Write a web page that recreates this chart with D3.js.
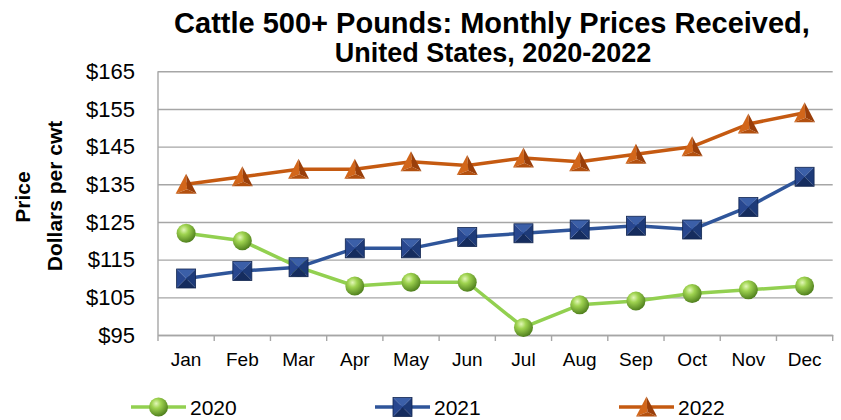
<!DOCTYPE html>
<html>
<head>
<meta charset="utf-8">
<script src="https://cdn.jsdelivr.net/npm/d3@7"></script>
<style>
  body { margin: 0; background: #fff; }
  svg { display: block; font-family: "Liberation Sans", Arial, sans-serif; }
</style>
</head>
<body>
<div id="chart"></div>
<script>
const months = ["Jan","Feb","Mar","Apr","May","Jun","Jul","Aug","Sep","Oct","Nov","Dec"];
const prices2020 = [122, 120, 113, 108, 109, 109, 97, 103, 104, 106, 107, 108];
const prices2021 = [110, 112, 113, 118, 118, 121, 122, 123, 124, 123, 129, 137];
const prices2022 = [135, 137, 139, 139, 141, 140, 142, 141, 143, 145, 151, 154];
const yTicks = [95, 105, 115, 125, 135, 145, 155, 165];
const seriesNames = ["2020", "2021", "2022"];

const width = 841, height = 420;
const plot = { left: 158, right: 832.7, top: 71.3, bottom: 335 };

const svg = d3.select("#chart").append("svg")
  .attr("width", width).attr("height", height);

const defs = svg.append("defs");
const rg = defs.append("radialGradient").attr("id", "ball")
  .attr("cx", "38%").attr("cy", "32%").attr("r", "70%");
rg.append("stop").attr("offset", "0%").attr("stop-color", "#e2f7b8");
rg.append("stop").attr("offset", "35%").attr("stop-color", "#9fd350");
rg.append("stop").attr("offset", "100%").attr("stop-color", "#4d7d1c");

const x = d3.scaleBand().domain(months).range([plot.left, plot.right]);
const y = d3.scaleLinear().domain([95, 165]).range([plot.bottom, plot.top]);

// gridlines + y labels
const yAxis = svg.append("g")
  .attr("transform", `translate(${plot.left},0)`)
  .call(d3.axisLeft(y).tickValues(yTicks).tickFormat(d => "$" + d)
    .tickSize(-(plot.right - plot.left)).tickPadding(23));
yAxis.select(".domain").remove();
yAxis.selectAll(".tick line").attr("stroke", "#a6a6a6").attr("stroke-width", 1.4);
yAxis.selectAll(".tick text").attr("font-size", 22).attr("fill", "#000")
  .attr("font-family", "'Liberation Sans', Arial, sans-serif");

// left axis line
svg.append("line")
  .attr("x1", plot.left).attr("x2", plot.left)
  .attr("y1", plot.top).attr("y2", plot.bottom)
  .attr("stroke", "#a6a6a6").attr("stroke-width", 1.4);

// x axis
const xAxis = svg.append("g")
  .attr("transform", `translate(0,${plot.bottom})`)
  .call(d3.axisBottom(x).tickSize(0).tickPadding(18));
xAxis.select(".domain").attr("stroke", "#a6a6a6").attr("stroke-width", 1.4);
xAxis.selectAll(".tick text").attr("font-size", 19).attr("fill", "#000")
  .attr("font-family", "'Liberation Sans', Arial, sans-serif");
// category boundary ticks
const bounds = months.map(m => x(m)).concat([plot.right]);
svg.append("g").selectAll("line").data(bounds).join("line")
  .attr("x1", d => d).attr("x2", d => d)
  .attr("y1", plot.bottom).attr("y2", plot.bottom + 6)
  .attr("stroke", "#a6a6a6").attr("stroke-width", 1.4);

const cx = m => x(m) + x.bandwidth() / 2;

function drawBall(g, px, py) {
  g.append("circle").attr("cx", px).attr("cy", py).attr("r", 9.5)
    .attr("fill", "url(#ball)");
}
function drawSquare(g, px, py) {
  const s = 9.5;
  const c = [px, py];
  const tl = [px - s, py - s], tr = [px + s, py - s], br = [px + s, py + s], bl = [px - s, py + s];
  const faces = [[tl, tr, "#3b5fa8"], [tr, br, "#1d3a78"], [br, bl, "#152c5e"], [bl, tl, "#28478f"]];
  faces.forEach(f => {
    g.append("polygon").attr("points", [f[0], f[1], c].map(p => p.join(",")).join(" "))
      .attr("fill", f[2]);
  });
  g.append("rect").attr("x", px - s).attr("y", py - s).attr("width", 2 * s).attr("height", 2 * s)
    .attr("fill", "none").attr("stroke", "#122650").attr("stroke-width", 0.8);
}
function drawTriangle(g, px, py) {
  const top = [px, py - 10.5], l = [px - 10.5, py + 9.5], r = [px + 10.5, py + 9.5], c = [px + 1, py + 5];
  g.append("polygon").attr("points", [top, l, c].map(p => p.join(",")).join(" ")).attr("fill", "#d2661a");
  g.append("polygon").attr("points", [top, c, r].map(p => p.join(",")).join(" ")).attr("fill", "#9a3f0a");
  g.append("polygon").attr("points", [l, c, r].map(p => p.join(",")).join(" ")).attr("fill", "#b3500f");
}

const series = [
  { name: seriesNames[0], values: prices2020, color: "#92d050", marker: drawBall },
  { name: seriesNames[1], values: prices2021, color: "#2f559a", marker: drawSquare },
  { name: seriesNames[2], values: prices2022, color: "#c55a11", marker: drawTriangle }
];

const line = d3.line().x((d, i) => cx(months[i])).y(d => y(d));

series.forEach(s => {
  const g = svg.append("g");
  g.append("path").datum(s.values).attr("d", line)
    .attr("fill", "none").attr("stroke", s.color).attr("stroke-width", 3.5)
    .attr("stroke-linejoin", "round");
  s.values.forEach((v, i) => s.marker(g, cx(months[i]), y(v)));
});

// title
const title = svg.append("text").attr("text-anchor", "middle")
  .attr("font-weight", "bold").attr("fill", "#000");
title.append("tspan").attr("x", 492).attr("y", 32.5).attr("font-size", 29)
  .text("Cattle 500+ Pounds: Monthly Prices Received,");
title.append("tspan").attr("x", 493).attr("y", 62).attr("font-size", 27)
  .text("United States, 2020-2022");

// y axis title
const yt = svg.append("text").attr("transform", "rotate(-90)")
  .attr("text-anchor", "middle").attr("font-weight", "bold").attr("font-size", 21).attr("fill", "#000");
yt.append("tspan").attr("x", -197).attr("y", 30).text("Price");
yt.append("tspan").attr("x", -196).attr("y", 62).text("Dollars per cwt");

// legend
const legendX = d3.scalePoint().domain(seriesNames).range([131, 619]);
const legendY = 407;
series.forEach(s => {
  const g = svg.append("g");
  const x0 = legendX(s.name);
  g.append("line").attr("x1", x0).attr("x2", x0 + 55)
    .attr("y1", legendY).attr("y2", legendY)
    .attr("stroke", s.color).attr("stroke-width", 3.5);
  s.marker(g, x0 + 27.5, legendY);
  g.append("text").attr("x", x0 + 59).attr("y", legendY + 8)
    .attr("font-size", 21).attr("fill", "#000").text(s.name);
});
</script>
</body>
</html>
